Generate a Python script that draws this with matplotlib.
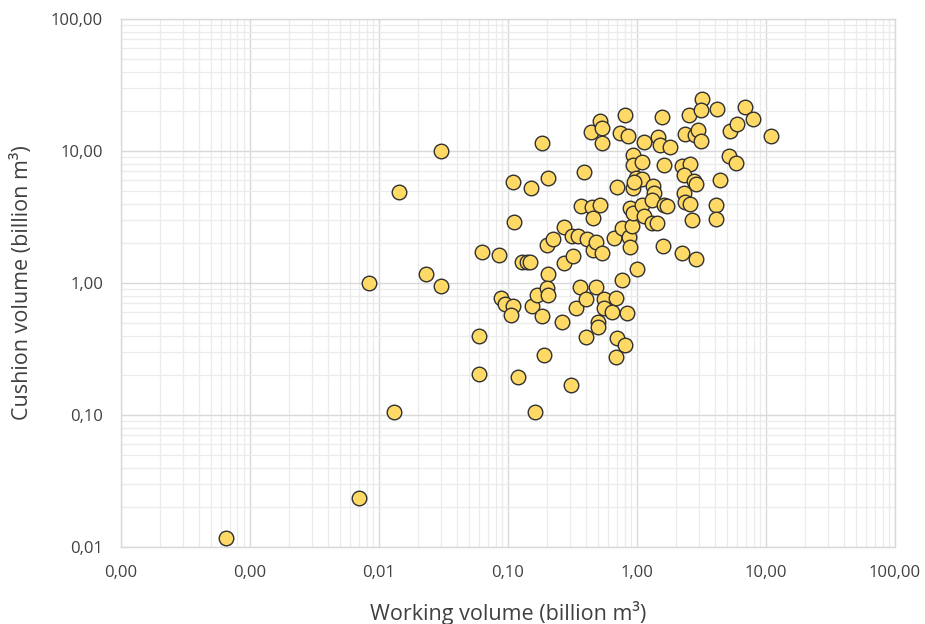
import matplotlib
matplotlib.use("Agg")
import matplotlib.pyplot as plt
from matplotlib.ticker import FuncFormatter, LogLocator, NullFormatter

# Working volume (billion m3)
working = [
    0.00065, 0.00703, 0.00839, 0.0130, 0.01435, 0.0233, 0.0303, 0.0303,
    0.0596, 0.0591, 0.0629, 0.0848, 0.0886, 0.0956, 0.1097, 0.1046,
    0.1093, 0.1103, 0.120, 0.1288, 0.141, 0.1476, 0.1513, 0.1633,
    0.154, 0.1663, 0.182, 0.1845, 0.1918, 0.1988, 0.222, 0.2036,
    0.205, 0.2006, 0.2024, 0.261, 0.271, 0.274, 0.307, 0.313,
    0.346, 0.318, 0.334, 0.360, 0.365, 0.386, 0.404, 0.404,
    0.411, 0.444, 0.452, 0.454, 0.477, 0.484, 0.499, 0.500,
    0.515, 0.436, 0.512, 0.531, 0.537, 0.537, 0.553, 0.553,
    0.642, 0.661, 0.691, 0.694, 0.690, 0.700, 0.800, 0.738,
    0.849, 0.768, 0.769, 0.812, 0.836, 0.864, 0.890, 0.890,
    0.918, 0.934, 0.934, 0.928, 0.974, 0.928, 1.005, 1.097,
    1.097, 1.097, 1.129, 1.129, 1.312, 1.417, 1.326, 1.349,
    1.312, 1.459, 1.494, 1.567, 1.596, 1.614, 1.614, 1.693,
    1.796, 2.241, 2.553, 2.305, 2.757, 2.877, 2.305, 2.334,
    2.566, 2.241, 2.334, 2.52, 2.68, 2.827, 2.98, 3.11,
    2.89, 3.20, 3.16, 4.18, 4.06, 4.11, 4.38, 5.19,
    5.80, 5.24, 5.98, 6.93, 7.96, 10.97, 0.956,
]

# Cushion volume (billion m3)
cushion = [
    0.0117, 0.0236, 1.00, 0.105, 4.89, 1.17, 10.0, 0.954,
    0.397, 0.203, 1.73, 1.62, 0.774, 0.693, 0.664, 0.572,
    5.85, 2.92, 0.194, 1.44, 1.43, 1.43, 5.20, 0.105,
    0.675, 0.804, 11.4, 0.565, 0.285, 1.94, 2.14, 6.28,
    1.16, 0.916, 0.804, 0.508, 1.42, 2.64, 0.170, 2.28,
    2.28, 1.60, 0.641, 0.933, 3.81, 6.97, 0.753, 0.391,
    2.15, 3.78, 3.09, 1.78, 2.03, 0.928, 0.508, 0.467,
    3.93, 13.9, 16.9, 15.0, 11.5, 1.70, 0.757, 0.647,
    0.598, 2.21, 0.766, 0.385, 0.276, 5.34, 18.7, 13.8,
    13.0, 2.60, 1.05, 0.338, 0.597, 2.22, 1.88, 3.68,
    2.70, 3.37, 9.25, 7.87, 6.28, 5.24, 1.27, 8.26,
    6.14, 3.87, 3.19, 11.7, 2.85, 2.85, 5.46, 4.78,
    4.25, 12.8, 11.1, 18.2, 1.91, 7.77, 3.90, 3.83,
    10.8, 7.70, 7.94, 6.58, 5.95, 5.60, 4.82, 4.11,
    3.97, 1.70, 13.5, 18.7, 3.00, 13.1, 14.5, 12.0,
    1.51, 24.6, 20.3, 20.7, 3.90, 3.05, 6.06, 9.17,
    8.16, 14.1, 16.1, 21.4, 17.4, 13.0, 5.82,
]

x_ticks = [0.0001, 0.001, 0.01, 0.1, 1, 10, 100]
y_ticks = [0.01, 0.1, 1, 10, 100]
x_title = "Working volume (billion m\u00b3)"
y_title = "Cushion volume (billion m\u00b3)"

plt.rcParams['font.family'] = ['Open Sans', 'DejaVu Sans']

fig = plt.figure(figsize=(9.25, 6.24), dpi=100)
ax = fig.add_axes([0.1308, 0.1234, 0.8368, 0.8462])

ax.set_xscale('log')
ax.set_yscale('log')
ax.set_xlim(x_ticks[0], x_ticks[-1])
ax.set_ylim(y_ticks[0], y_ticks[-1])

ax.scatter(working, cushion, s=110, facecolor='#FFD966', edgecolor='#303030',
           linewidths=1.0, zorder=3, clip_on=False)

ax.set_xticks(x_ticks)
ax.set_yticks(y_ticks)
fmt = FuncFormatter(lambda v, p: f"{v:.2f}".replace('.', ','))
ax.xaxis.set_major_formatter(fmt)
ax.yaxis.set_major_formatter(fmt)
ax.xaxis.set_minor_locator(LogLocator(base=10, subs=range(2, 10), numticks=20))
ax.yaxis.set_minor_locator(LogLocator(base=10, subs=range(2, 10), numticks=20))
ax.xaxis.set_minor_formatter(NullFormatter())
ax.yaxis.set_minor_formatter(NullFormatter())

ax.grid(True, which='major', color='#D9D9D9', linewidth=1.0, zorder=0)
ax.grid(True, which='minor', color='#EBEBEB', linewidth=0.9, zorder=0)
ax.set_axisbelow(True)

ax.tick_params(which='both', length=0)
ax.tick_params(axis='x', pad=13, labelsize=12, labelcolor='#404040')
ax.tick_params(axis='y', pad=13, labelsize=12, labelcolor='#404040')

for s in ax.spines.values():
    s.set_color('#D9D9D9')
    s.set_linewidth(1.0)

ax.set_xlabel(x_title, fontsize=15.5, color='#404040')
ax.set_ylabel(y_title, fontsize=15.5, color='#404040')
ax.xaxis.set_label_coords(0.5, -0.103)
ax.yaxis.set_label_coords(-0.114, 0.5)

fig.savefig('out.png', dpi=100)
